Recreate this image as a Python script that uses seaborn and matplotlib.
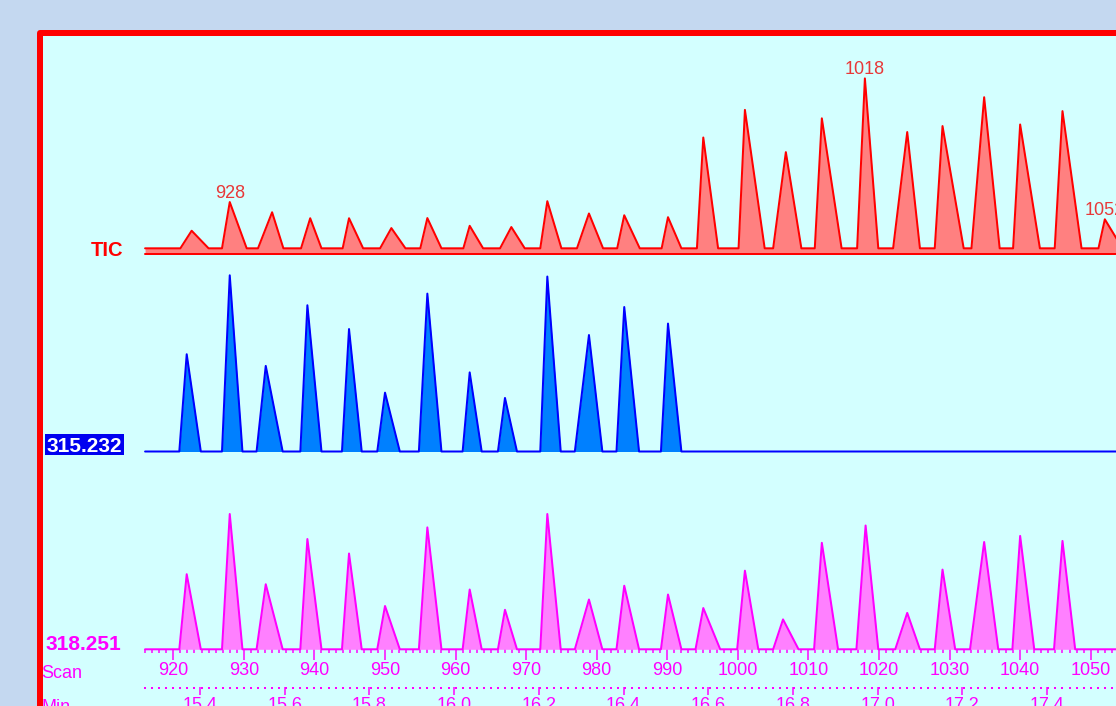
import numpy as np
import pandas as pd
import matplotlib
matplotlib.use("Agg")
import matplotlib.pyplot as plt
from matplotlib.patches import Rectangle
from matplotlib.ticker import FixedLocator, FormatStrFormatter
import seaborn as sns

# ---------------------------------------------------------------------------
# Data: each peak = start scan, apex scan, end scan,
# apex height in % of the trace's largest peak
# ---------------------------------------------------------------------------
tic_start  = [921.0, 926.9, 932.0, 938.1, 944.0, 949.3, 955.0, 961.1, 966.3, 972.0,
              977.2, 982.9, 989.2, 994.2, 1000.1, 1005.0, 1010.9, 1016.9, 1022.0,
              1027.9, 1033.1, 1039.0, 1044.9, 1051.1]
tic_apex   = [922.6, 928.0, 934.0, 939.4, 944.9, 950.9, 956.0, 962.0, 967.9, 973.0,
              978.9, 983.9, 990.1, 995.1, 1001.0, 1006.8, 1011.9, 1018.0, 1024.0,
              1029.0, 1034.9, 1040.0, 1046.0, 1052.0]
tic_end    = [925.0, 930.4, 935.6, 941.0, 946.9, 952.9, 958.0, 963.9, 969.8, 975.0,
              980.9, 986.1, 992.0, 997.2, 1003.8, 1009.0, 1014.7, 1019.9, 1025.8,
              1032.0, 1037.1, 1042.8, 1048.7, 1054.5]
tic_height = [13.4, 29.7, 23.9, 20.5, 20.5, 14.9, 20.6, 16.2, 15.5, 30.2,
              23.2, 22.2, 21.1, 66.4, 82.1, 58.1, 77.3, 100.0, 69.5,
              72.9, 89.3, 73.8, 81.4, 19.9]
tic_base   = 3.4
tic_labels = [928, 1018, 1052]

ion1_name   = "315.232"
ion1_start  = [920.85, 926.9, 931.8, 938.0, 943.9, 948.9, 954.8, 961.0, 966.0,
               972.0, 976.9, 982.8, 989.1]
ion1_apex   = [921.9, 928.0, 933.1, 939.0, 944.9, 950.0, 956.0, 962.0, 967.0,
               973.0, 978.9, 983.9, 990.1]
ion1_end    = [923.9, 929.8, 935.5, 941.0, 946.7, 952.1, 958.0, 963.7, 968.7,
               974.9, 980.8, 986.0, 992.0]
ion1_height = [55.2, 100.0, 48.6, 83.0, 69.5, 33.4, 89.6, 44.9, 30.4,
               99.3, 66.1, 82.0, 72.6]

ion2_name   = "318.251"
ion2_start  = [920.85, 926.9, 931.8, 938.0, 943.9, 948.9, 954.8, 961.0, 966.0,
               972.0, 976.9, 982.8, 989.1, 994.0, 999.9, 1005.0, 1010.8, 1016.8,
               1022.3, 1027.9, 1032.9, 1038.9, 1044.8]
ion2_apex   = [921.9, 928.0, 933.1, 939.0, 944.9, 950.0, 956.0, 962.0, 967.0,
               973.0, 978.9, 983.9, 990.1, 995.1, 1001.0, 1006.4, 1011.9, 1018.1,
               1024.0, 1029.0, 1034.9, 1040.0, 1046.0]
ion2_end    = [923.9, 929.8, 935.5, 941.0, 946.7, 952.1, 958.0, 963.7, 968.7,
               974.9, 980.8, 986.0, 992.0, 997.5, 1002.9, 1008.6, 1014.2, 1019.9,
               1025.8, 1030.8, 1036.9, 1042.0, 1047.8]
ion2_height = [55.5, 100.0, 48.1, 81.5, 70.8, 32.0, 90.1, 44.2, 29.2,
               100.0, 36.8, 47.0, 40.5, 30.5, 58.1, 22.1, 78.7, 91.5,
               26.9, 58.9, 79.3, 83.8, 80.1]

scan_first, scan_last = 916, 1054
scan_ticks = [920, 930, 940, 950, 960, 970, 980, 990, 1000, 1010, 1020, 1030, 1040, 1050]
min_ticks  = [15.4, 15.6, 15.8, 16.0, 16.2, 16.4, 16.6, 16.8, 17.0, 17.2, 17.4]
SCAN_AT_MIN0, MIN0, SCANS_PER_MIN = 923.8, 15.4, 60.0

# ---------------------------------------------------------------------------
# look
# ---------------------------------------------------------------------------
W, H = 1116, 706
BG, PANEL = "#C4D8F0", "#D3FFFF"
RED, RED_FILL = "#FF0000", "#FF8080"
BLUE, BLUE_FILL = "#0000FF", "#0080FF"
MAG, MAG_FILL = "#FF00FF", "#FF80FF"
PX = 72 / 100  # points per pixel at dpi 100

X_LEFT = 920 - 173.3 / 7.057
X_RIGHT = 920 + (W - 173.3) / 7.057

sns.set_style("white")
plt.rcParams["font.family"] = ["Liberation Sans", "DejaVu Sans"]

fig = plt.figure(figsize=(W / 100, H / 100), dpi=100, facecolor=BG)

# background / frame layer in pixel coordinates
bg = fig.add_axes([0, 0, 1, 1], zorder=0)
bg.set_xlim(0, W)
bg.set_ylim(H, 0)
bg.axis("off")
bg.add_patch(Rectangle((40, 33), 1200, 800, facecolor=PANEL, edgecolor=RED,
                       lw=6 * PX, joinstyle="round"))


def band(top, bottom):
    ax = fig.add_axes([0, 1 - bottom / H, 1, (bottom - top) / H], zorder=1)
    ax.patch.set_visible(False)
    for s in ax.spines.values():
        s.set_visible(False)
    ax.set_xlim(X_LEFT, X_RIGHT)
    ax.set_ylim(0, 100)
    ax.set_yticks([])
    return ax


def trace(start, apex, end, height, base):
    xs, ys = [scan_first], [base]
    for s, a, e, h in zip(start, apex, end, height):
        xs += [s, a, e]
        ys += [base, h, base]
    xs.append(scan_last + 1)
    ys.append(base)
    return pd.DataFrame({"scan": xs, "intensity": ys})


def draw(ax, df, line, fill):
    ax.fill_between(df["scan"], 0, df["intensity"], color=fill, lw=0, clip_on=False)
    sns.lineplot(data=df, x="scan", y="intensity", ax=ax, color=line,
                 lw=2 * PX, estimator=None, sort=False)
    for ln in ax.lines:
        ln.set_clip_on(False)
    ax.set_xlabel("")
    ax.set_ylabel("")
    ax.set_xlim(X_LEFT, X_RIGHT)
    ax.set_ylim(0, 100)


# TIC
ax_tic = band(78.4, 254.3)
tic = trace(tic_start, tic_apex, tic_end, tic_height, tic_base)
draw(ax_tic, tic, RED, RED_FILL)
ax_tic.plot([tic["scan"].min(), tic["scan"].max()], [0, 0], color=RED,
            lw=2 * PX, clip_on=False)
ax_tic.set_xticks([])
for s in tic_labels:
    h = tic_height[tic_apex.index(s)]
    ax_tic.annotate(str(s), (s, h), xytext=(0, 3), textcoords="offset points",
                    ha="center", va="baseline", color="#E83838", fontsize=13)

# ion 1
ax_b = band(275.3, 451.5)
draw(ax_b, trace(ion1_start, ion1_apex, ion1_end, ion1_height, 0), BLUE, BLUE_FILL)
ax_b.set_xticks([])

# ion 2 + scan axis
ax_p = band(514.0, 649.3)
draw(ax_p, trace(ion2_start, ion2_apex, ion2_end, ion2_height, 0), MAG, MAG_FILL)
ax_p.xaxis.set_major_locator(FixedLocator(scan_ticks))
ax_p.xaxis.set_minor_locator(FixedLocator(np.arange(scan_first, scan_last)))
ax_p.tick_params(axis="x", which="both", bottom=True, direction="out",
                 color=MAG, labelcolor=MAG)
ax_p.tick_params(axis="x", which="major", length=11 * PX, width=1.5 * PX,
                 labelsize=13, pad=1)
ax_p.tick_params(axis="x", which="minor", length=4 * PX, width=1.5 * PX)


def to_min(s):
    return MIN0 + (np.asarray(s) - SCAN_AT_MIN0) / SCANS_PER_MIN


def to_scan(m):
    return SCAN_AT_MIN0 + (np.asarray(m) - MIN0) * SCANS_PER_MIN


sec = ax_p.secondary_xaxis(-(687 - 649.3) / 135.3, functions=(to_min, to_scan))
sec.spines["bottom"].set_visible(False)
sec.xaxis.set_major_locator(FixedLocator(min_ticks))
sec.xaxis.set_minor_locator(FixedLocator(to_min(np.arange(scan_first, scan_last))))
sec.xaxis.set_major_formatter(FormatStrFormatter("%.1f"))
sec.tick_params(axis="x", which="both", bottom=True, direction="out",
                color=MAG, labelcolor=MAG)
sec.tick_params(axis="x", which="major", length=8 * PX, width=1.5 * PX,
                labelsize=13, pad=1.5)
sec.tick_params(axis="x", which="minor", length=2 * PX, width=2 * PX)

# trace names
bg.text(123, 256, "TIC", color=RED, fontsize=14.5, fontweight="bold",
        ha="right", va="baseline")
bg.add_patch(Rectangle((45, 434), 79, 21, facecolor="#0000F0", edgecolor="none"))
bg.text(84.5, 451.5, ion1_name, color="white", fontsize=15, fontweight="bold",
        ha="center", va="baseline")
bg.text(83.5, 650, ion2_name, color=MAG, fontsize=15, fontweight="bold",
        ha="center", va="baseline")
bg.text(41.5, 678, "Scan", color=MAG, fontsize=13, ha="left", va="baseline")
bg.text(41.5, 712, "Min", color=MAG, fontsize=13, ha="left", va="baseline")

fig.savefig("out.png", dpi=100, facecolor=fig.get_facecolor())
